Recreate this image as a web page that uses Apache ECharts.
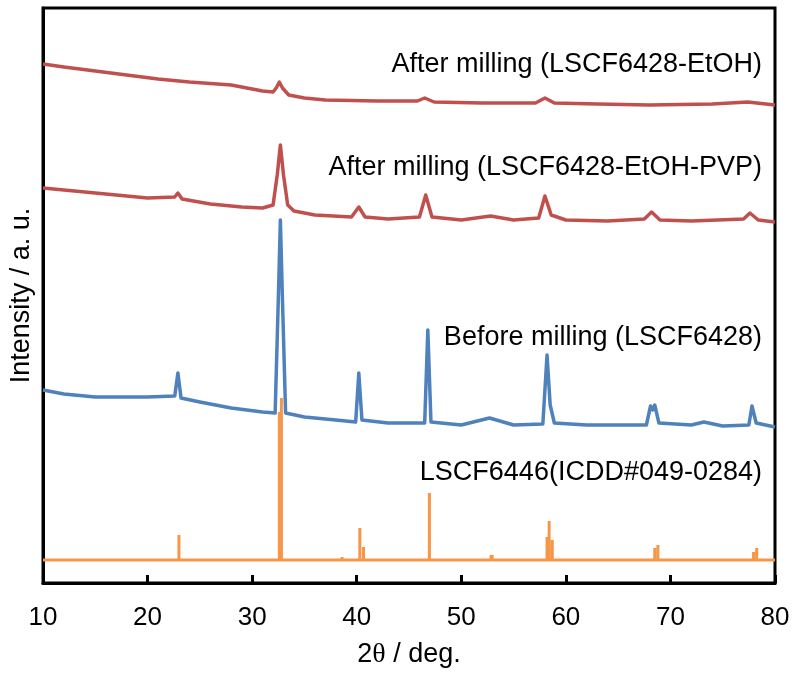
<!DOCTYPE html>
<html>
<head>
<meta charset="utf-8">
<script src="https://cdn.jsdelivr.net/npm/echarts@6/dist/echarts.min.js"></script>
<style>
  html, body { margin: 0; padding: 0; background: #fff; }
  #chart { width: 794px; height: 677px; }
</style>
</head>
<body>
<div id="chart"></div>
<script>
// 2theta (deg) / intensity (a.u., offset per curve)
var millEtohX = [10, 12, 15, 18, 21, 24, 28, 31, 32.0, 32.3, 32.6, 32.9, 33.5, 35, 37, 42, 45.8, 46.5, 47.4, 52, 57.1, 58.0, 58.9, 63, 68, 74, 77.4, 80]
var millEtohY = [519, 516, 512, 508, 504, 501, 498, 492, 491, 495, 501, 495, 488, 485, 483, 482, 482, 485, 481, 480, 480, 485, 480, 479, 478, 479, 481, 478]

var millPvpX = [10, 12, 15, 18, 20, 22.6, 22.9, 23.3, 26, 29, 31, 32.0, 32.4, 32.7, 33.0, 33.4, 34, 36, 39.5, 40.2, 40.8, 43, 46.0, 46.6, 47.2, 50, 52.8, 55, 57.4, 58.0, 58.6, 60, 64, 67.5, 68.2, 69, 72, 77, 77.6, 78.4, 80]
var millPvpY = [395, 393, 390, 387, 385, 386, 390, 384, 379, 376, 375, 378, 408, 438, 408, 378, 372, 368, 366, 376, 366, 364, 366, 388, 366, 363, 367, 363, 365, 387, 368, 363, 362, 364, 371, 363, 362, 364, 370, 363, 361]

var beforeX = [10, 12, 15, 20, 22.6, 22.9, 23.2, 25, 28, 31, 32.2, 32.5, 32.7, 32.9, 33.2, 35, 38, 39.9, 40.2, 40.5, 43, 46.5, 46.8, 47.1, 50, 52.7, 55, 57.8, 58.2, 58.5, 58.9, 62, 67.7, 68.1, 68.3, 68.5, 68.9, 72, 73.2, 75, 77.5, 77.8, 78.2, 80]
var beforeY = [193, 189, 186, 186, 187, 210, 185, 181, 175, 171, 170, 283, 363, 283, 170, 166, 163, 161, 210, 163, 160, 160, 253, 161, 158, 165, 158, 159, 228, 178, 160, 158, 158, 177, 173, 178, 160, 158, 161, 157, 158, 177, 160, 156]

// ICDD reference sticks
var refBase = 23
var refPos = [23.0, 32.6, 32.8, 38.6, 40.3, 40.65, 46.95, 52.85, 52.95, 58.2, 58.4, 58.7, 68.5, 68.8, 73.3, 73.6, 77.95, 78.25]
var refTop = [48, 171, 185, 26, 55, 36, 90, 28, 28, 46, 62, 43, 35, 38, 25, 25, 31, 35]

var xTicks = [10, 20, 30, 40, 50, 60, 70, 80]

var labels = [
  { text: 'After milling (LSCF6428-EtOH)', y: 66 },
  { text: 'After milling (LSCF6428-EtOH-PVP)', y: 169 },
  { text: 'Before milling (LSCF6428)', y: 339 },
  { text: 'LSCF6446(ICDD#049-0284)', y: 474 }
]

function pairs (xs, ys) {
  return xs.map(function (x, i) { return [x, ys[i]] })
}

// baseline with vertical sticks
function sticks (pos, top, base) {
  let out = [[xTicks[0], base]]
  pos.forEach(function (p, i) {
    out.push([p, base])
    out.push([p, top[i]])
    out.push([p, base])
  })
  out.push([xTicks[xTicks.length - 1], base])
  return out
}

function lineSeries (data, color, width, join) {
  return {
    type: 'line',
    data: data,
    symbol: 'none',
    lineStyle: { color: color, width: width, join: join },
    z: 2
  }
}

var font = 'Liberation Sans, Arial, sans-serif'
var chart = echarts.init(document.getElementById('chart'))

var option = {
  animation: false,
  backgroundColor: '#fff',
  grid: {
    left: 42, right: 19, top: 8, bottom: 94,
    show: true, borderColor: '#000', borderWidth: 3
  },
  xAxis: {
    type: 'value',
    min: 10, max: 80, interval: 10,
    name: '{a|2}{b|θ}{a| / deg.}',
    nameLocation: 'middle',
    nameGap: 58,
    nameTextStyle: {
      rich: {
        a: { fontSize: 27, fontFamily: font, color: '#000' },
        b: { fontSize: 28, fontFamily: 'Liberation Serif, Times New Roman, serif', color: '#000' }
      }
    },
    axisLine: { lineStyle: { color: '#000', width: 3 } },
    axisTick: { inside: true, length: 8, lineStyle: { color: '#000', width: 3 } },
    axisLabel: { color: '#000', fontSize: 26, fontFamily: font, margin: 22 },
    splitLine: { show: false }
  },
  yAxis: {
    type: 'value',
    min: 0, max: 575,
    name: 'Intensity / a. u.',
    nameLocation: 'middle',
    nameGap: 8,
    nameTextStyle: { color: '#000', fontSize: 27, fontFamily: font },
    axisLine: { show: true, lineStyle: { color: '#000', width: 3 } },
    axisTick: { show: false },
    axisLabel: { show: false },
    splitLine: { show: false }
  },
  series: [
    lineSeries(sticks(refPos, refTop, refBase), '#F79646', 3, 'bevel'),
    lineSeries(pairs(beforeX, beforeY), '#4F81BD', 3.5, 'round'),
    lineSeries(pairs(millPvpX, millPvpY), '#C0504D', 3.5, 'round'),
    lineSeries(pairs(millEtohX, millEtohY), '#C0504D', 3.5, 'round')
  ],
  graphic: labels.map(function (l) {
    return {
      type: 'text',
      right: 32,
      top: l.y - 15,
      style: { text: l.text, fill: '#000', font: '27px ' + font, textAlign: 'right' }
    }
  })
}
chart.setOption(option)
</script>
</body>
</html>
